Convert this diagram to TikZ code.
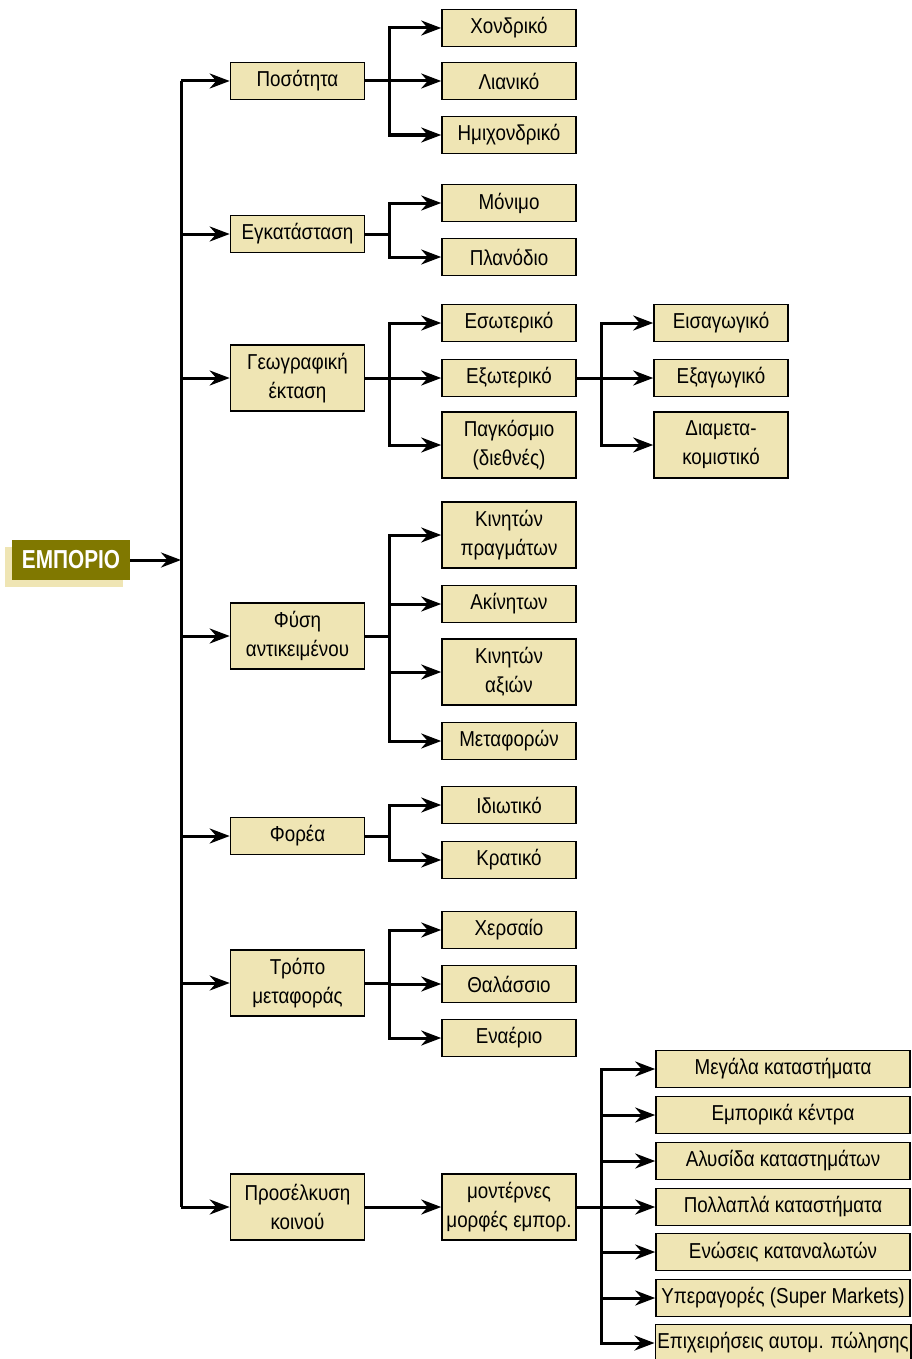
\documentclass[tikz,border=0pt]{standalone}
\usepackage{fontspec}
\setmainfont{Liberation Sans}[FakeStretch=0.87]
\newfontfamily\rootfont{Liberation Sans}[FakeStretch=0.8]
\usetikzlibrary{arrows.meta, positioning, shadows}
\definecolor{boxfill}{RGB}{239,229,180}
\definecolor{rootolive}{RGB}{128,120,0}

\begin{document}
\begin{tikzpicture}[x=0.5pt,y=-0.5pt,
		box/.style={draw, fill=boxfill, line width=0.8pt, minimum width=67pt,
			minimum height=18.5pt, inner sep=1pt, align=center,
			font=\fontsize{10.8}{14.5}\selectfont},
		tall/.style={box, minimum height=33pt},
		wide/.style={box, minimum width=127pt},
		rootbox/.style={fill=rootolive, text=white, minimum width=59pt, minimum height=20pt,
			inner sep=1pt, font=\rootfont\bfseries\fontsize{13}{14}\selectfont,
			drop shadow={shadow xshift=-3.5pt, shadow yshift=-3.5pt, fill=boxfill, opacity=1}},
		arr/.style={-{Stealth[length=10pt,width=7.5pt]}, line width=1.5pt},
		bus/.style={line width=1.5pt}]
	\useasboundingbox (0,0) rectangle (911,1359);
	% root and trunk
	\node[rootbox] (emp) at (71,560) {ΕΜΠΟΡΙΟ};
	\coordinate (trunk) at (181,560);
	\coordinate (busA) at (389,0);
	\coordinate (busB) at (601,0);
	% first level
	\node[box] (pos) at (297.5,81) {Ποσότητα};
	\node[box] (egk) at (297.5,234) {Εγκατάσταση};
	\node[tall] (geo) at (297.5,378) {Γεωγραφική\\έκταση};
	\node[tall] (fys) at (297.5,636) {Φύση\\αντικειμένου};
	\node[box] (for) at (297.5,836) {Φορέα};
	\node[tall] (tro) at (297.5,983) {Τρόπο\\μεταφοράς};
	\node[tall] (pro) at (297.5,1207) {Προσέλκυση\\κοινού};
	% second level
	\node[box] (xon) at (509,28) {Χονδρικό};
	\node[box] (lia) at (509,81) {Λιανικό};
	\node[box] (hmi) at (509,135) {Ημιχονδρικό};
	\node[box] (mon) at (509,203) {Μόνιμο};
	\node[box] (pla) at (509,257) {Πλανόδιο};
	\node[box] (eso) at (509,323) {Εσωτερικό};
	\node[box] (exo) at (509,378) {Εξωτερικό};
	\node[tall] (pag) at (509,445) {Παγκόσμιο\\(διεθνές)};
	\node[tall] (kpr) at (509,535) {Κινητών\\πραγμάτων};
	\node[box] (aki) at (509,604) {Ακίνητων};
	\node[tall] (kax) at (509,672) {Κινητών\\αξιών};
	\node[box] (met) at (509,741) {Μεταφορών};
	\node[box] (idi) at (509,805) {Ιδιωτικό};
	\node[box] (kra) at (509,860) {Κρατικό};
	\node[box] (xer) at (509,930) {Χερσαίο};
	\node[box] (tha) at (509,984) {Θαλάσσιο};
	\node[box] (ena) at (509,1038) {Εναέριο};
	\node[tall] (mod) at (509,1207) {μοντέρνες\\μορφές εμπορ.};
	% third level
	\node[box] (eis) at (721,323) {Εισαγωγικό};
	\node[box] (exa) at (721,378) {Εξαγωγικό};
	\node[tall] (dia) at (721,445) {Διαμετα-\\κομιστικό};
	\node[wide] (meg) at (783,1069) {Μεγάλα καταστήματα};
	\node[wide] (emk) at (783,1115) {Εμπορικά κέντρα};
	\node[wide] (alu) at (783,1161) {Αλυσίδα καταστημάτων};
	\node[wide] (pol) at (783,1207) {Πολλαπλά καταστήματα};
	\node[wide] (enw) at (783,1252) {Ενώσεις καταναλωτών};
	\node[wide] (ype) at (783,1298) {Υπεραγορές (Super Markets)};
	\node[wide] (epi) at (783,1343) {Επιχειρήσεις αυτομ. πώλησης};

	\draw[arr] (emp.east) -- (trunk);
	\draw[bus] (pos.west -| trunk) -- (pro.west -| trunk);
	\foreach \n in {pos,egk,geo,fys,for,tro,pro}
		\draw[arr] (\n.west -| trunk) -- (\n.west);
	\foreach \a/\b in {pos/xon,pos/lia,pos/hmi,egk/mon,egk/pla,geo/eso,geo/exo,geo/pag,
			fys/kpr,fys/aki,fys/kax,fys/met,for/idi,for/kra,tro/xer,tro/tha,tro/ena}
		\draw[arr] (\a.east) -- (\a.east -| busA) |- (\b.west);
	\foreach \b in {eis,exa,dia}
		\draw[arr] (exo.east) -- (exo.east -| busB) |- (\b.west);
	\foreach \b in {meg,emk,alu,pol,enw,ype,epi}
		\draw[arr] (mod.east) -- (mod.east -| busB) |- (\b.west);
	\draw[arr] (pro.east) -- (mod.west);
\end{tikzpicture}
\end{document}
